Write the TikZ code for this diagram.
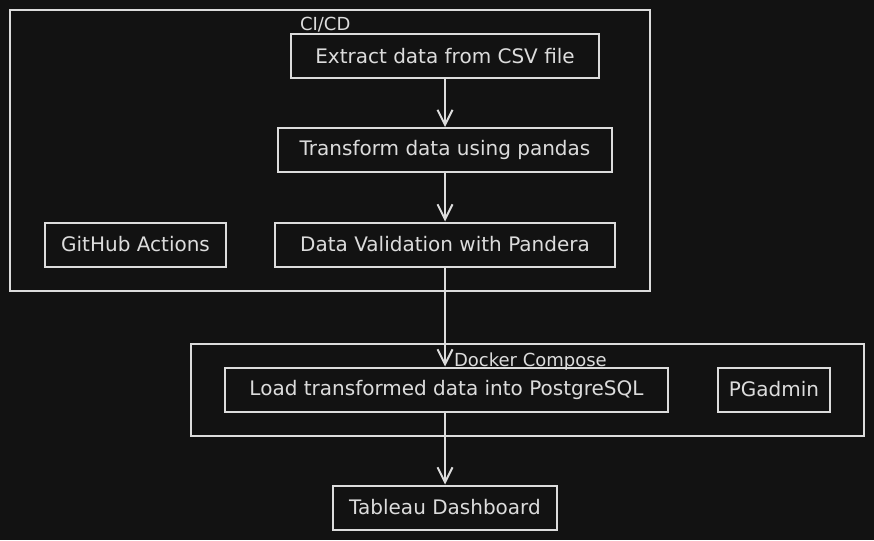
\documentclass[tikz,border=0pt]{standalone}
\usepackage{fontspec}
\setmainfont{DejaVu Sans}
\usetikzlibrary{arrows.meta}
\definecolor{bgdark}{HTML}{121212}
\definecolor{chalk}{HTML}{DCDCDC}
\begin{document}
\begin{tikzpicture}[x=1pt,y=-1pt, color=chalk, line width=2pt,
	box/.style={draw, minimum width=#1, minimum height=44pt, inner sep=0pt,
		font=\fontsize{20}{22}\selectfont},
	frame/.style n args={2}{draw, minimum width=#1, minimum height=#2, inner sep=0pt},
	framelabel/.style={anchor=base west, inner sep=0pt, font=\fontsize{18}{20}\selectfont},
	arr/.style={-{Straight Barb[length=15pt,width=15pt]}}]%
	\fill[bgdark] (0,0) rectangle (874,540);
	\useasboundingbox (0,0) rectangle (874,540);
	% frames
	\node[frame={640pt}{281pt}] (cicd) at (330,150.5) {};
	\node[framelabel] (cicdlabel) at (299,31) {CI/CD};
	\node[frame={673pt}{92pt}] (docker) at (527.5,390) {};
	\node[framelabel] (dockerlabel) at (453,366) {Docker Compose};
	% steps
	\node[box=308pt] (extract) at (445,56.5) {Extract data from CSV file};
	\node[box=334pt] (transform) at (445,150) {Transform data using pandas};
	\node[box=340pt] (valid) at (445,244.5) {Data Validation with Pandera};
	\node[box=181pt] (github) at (135.5,244.5) {GitHub Actions};
	\node[box=443pt] (load) at (446.5,389.5) {Load transformed data into PostgreSQL};
	\node[box=112pt] (pgadmin) at (774,389.5) {PGadmin};
	\node[box=224pt] (tableau) at (445,507.5) {Tableau Dashboard};
	% arrows
	\draw[arr] (extract) -- (transform);
	\draw[arr] (transform) -- (valid);
	\draw[arr] (valid) -- (valid |- load.north);
	\draw[arr] (load.south -| tableau) -- (tableau);
\end{tikzpicture}
\end{document}
